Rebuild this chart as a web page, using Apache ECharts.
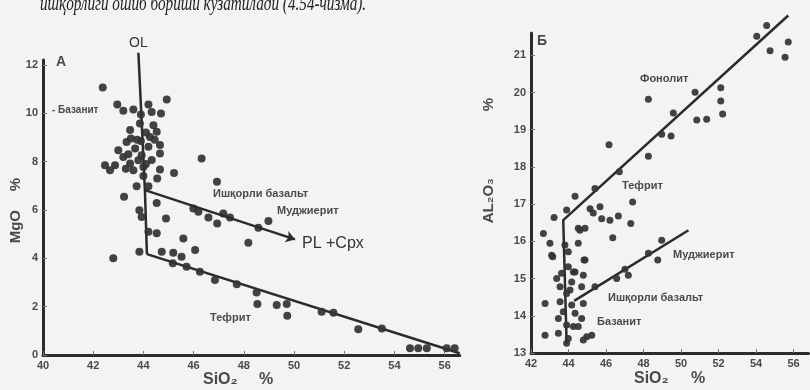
<!DOCTYPE html>
<html><head><meta charset="utf-8">
<script src="https://cdn.jsdelivr.net/npm/echarts@6/dist/echarts.min.js"></script>
<style>html,body{margin:0;padding:0;background:#f3f3f3}#c{width:810px;height:390px}</style>
</head><body><div id="c"></div>
<script>
// ---------- Panel A: SiO2 vs MgO ----------
const aXTicks = [40, 42, 44, 46, 48, 50, 52, 54, 56];
const aYTicks = [0, 2, 4, 6, 8, 10, 12];
const aPoints = [
 [42.38,11.06],[44.93,10.57],[42.96,10.36],[43.2,10.1],[43.6,10.15],[44.2,10.36],[44.33,10.05],[44.7,9.99],
 [43.86,9.57],[44.4,9.5],[43.47,9.3],[44.53,9.23],[44.26,9.02],[43.33,8.81],[43.9,8.85],[44.66,8.68],
 [43.0,8.47],[43.67,8.54],[44.2,8.61],[44.66,8.33],[43.2,8.19],[43.93,8.26],[44.33,8.06],[42.47,7.85],
 [42.87,7.85],[43.47,7.92],[44.0,7.78],[42.67,7.64],[43.6,7.64],[44.66,7.67],[45.22,7.53],[46.32,8.13],
 [44.0,7.4],[44.55,7.3],[43.73,6.98],[44.2,6.98],[43.23,6.54],[44.53,6.29],[43.84,5.99],[43.93,5.71],
 [44.9,5.65],[44.2,5.1],[44.53,5.03],[45.59,4.82],[43.84,4.27],[42.8,4.0],[44.73,4.27],[45.19,4.23],
 [45.52,4.06],[46.06,4.34],[46.93,7.16],[43.5,8.95],[43.75,8.9],[44.1,9.2],[43.4,8.3],[43.8,8.05],
 [44.1,7.9],[43.3,7.7],[43.9,9.95],[44.45,8.9],
 [45.99,6.06],[46.19,5.92],[46.59,5.69],[46.94,5.44],[47.18,5.85],[47.45,5.69],[48.58,5.26],[48.98,5.54],[48.18,4.64],
 [45.17,3.79],[45.72,3.65],[46.25,3.44],[46.85,3.1],[47.72,2.93],[48.51,2.58],[48.54,2.11],[49.31,2.07],
 [49.71,2.11],[49.73,1.62],[51.1,1.79],[51.57,1.75],[52.56,1.06],[53.5,1.1],[54.62,0.28],[54.95,0.28],
 [55.29,0.28],[56.08,0.28],[56.4,0.28]
];
const aOlLine = [[43.8,12.5],[44.06,6.82],[44.14,4.17]];
const aTephriteLine = [[44.14,4.17],[56.6,0.07]];
const aPlCpxLine = [[44.06,6.82],[50.04,4.78]];

// ---------- Panel B: SiO2 vs Al2O3 ----------
const bXTicks = [42, 44, 46, 48, 50, 52, 54, 56];
const bYTicks = [13, 14, 15, 16, 17, 18, 19, 20, 21];
const bPoints = [
 [54.57,21.8],[54.04,21.51],[55.72,21.36],[54.75,21.12],[55.55,20.95],[50.75,20.01],[52.12,20.13],[52.12,19.77],
 [52.22,19.42],[50.84,19.26],[51.37,19.28],[48.26,19.82],[49.59,19.45],[48.97,18.88],[49.47,18.83],[46.16,18.6],
 [48.26,18.29],[46.71,17.87],[45.41,17.42],[44.35,17.21],[47.42,17.06],[43.9,16.84],[45.15,16.88],[45.32,16.76],
 [45.77,16.61],[46.21,16.57],[46.66,16.68],[44.88,16.35],[47.32,16.48],[46.36,16.1],[43.23,16.64],[45.68,16.93],
 [42.66,16.21],[43.01,15.95],[43.81,15.9],[44.52,15.95],[43.99,15.72],[43.1,15.63],[44.88,15.5],[43.99,15.32],
 [43.63,15.14],[44.35,15.18],[43.37,15.0],[44.79,15.09],[44.17,14.91],[43.55,14.78],[44.7,14.78],[43.9,14.6],
 [42.75,14.33],[43.55,14.38],[44.17,14.29],[44.79,14.33],[43.72,14.11],[44.35,14.07],[43.46,13.93],[44.7,13.93],
 [43.9,13.75],[44.52,13.71],[42.75,13.48],[43.46,13.53],[43.99,13.39],[44.97,13.44],[45.24,13.48],[43.9,13.26],
 [44.79,13.35],[44.52,16.35],[44.61,16.3],[43.16,15.59],[44.26,15.18],[44.08,14.69],[44.26,13.71],[44.83,15.5],
 [45.41,14.78],[46.57,15.0],[47.01,15.25],[47.19,15.09],[48.26,15.68],[48.76,15.5],[48.97,16.03]
];
const bPhonoliteLine = [[43.9,13.25],[43.72,16.57],[55.72,22.07]];
const bMugeariteLine = [[44.3,14.4],[50.4,16.3]];

const ink = '#2b2b2b';
const lblColor = '#4a4a4a';
function axisCommon(min, max, interval) {
  return {
    type: 'value', min: min, max: max, interval: interval,
    axisLine: { show: true, onZero: false, lineStyle: { color: ink, width: 3 } },
    axisTick: { show: true, inside: true, length: 4, lineStyle: { color: '#777', width: 1 } },
    axisLabel: { color: lblColor, fontSize: 11, fontWeight: 'bold', fontFamily: 'Liberation Sans', margin: 5,
      showMaxLabel: false,
      formatter: v => (Math.abs(v / interval - Math.round(v / interval)) < 1e-6 ? String(v) : '') },
    splitLine: { show: false }
  };
}
function lineSeries(data, xi, yi) {
  return { type: 'line', xAxisIndex: xi, yAxisIndex: yi, data: data, symbol: 'none', clip: false,
    lineStyle: { color: ink, width: 2.5 }, z: 3, silent: true };
}
function scatterSeries(data, xi, yi, size) {
  return { type: 'scatter', xAxisIndex: xi, yAxisIndex: yi, data: data, symbolSize: size, clip: false,
    itemStyle: { color: '#333', opacity: 0.92 }, z: 4, silent: true };
}
const txt = (x, y, s, size, extra) => Object.assign({ type: 'text', left: x, top: y,
  style: { text: s, fill: lblColor, font: 'bold ' + (size || 11) + 'px "Liberation Sans"' } }, extra || {});

const chart = echarts.init(document.getElementById('c'), null, { renderer: 'canvas' });
chart.setOption({
  backgroundColor: '#f3f3f3',
  animation: false,
  grid: [
    { left: 43, top: 60, width: 416.7, height: 295 },
    { left: 531, top: 33, width: 277.5, height: 320 }
  ],
  xAxis: [
    Object.assign(axisCommon(aXTicks[0], 56.6, aXTicks[1] - aXTicks[0]), { gridIndex: 0 }),
    Object.assign(axisCommon(bXTicks[0], 56.8, bXTicks[1] - bXTicks[0]), { gridIndex: 1 })
  ],
  yAxis: [
    Object.assign(axisCommon(aYTicks[0], 12.2, aYTicks[1] - aYTicks[0]), { gridIndex: 0 }),
    Object.assign(axisCommon(bYTicks[0], 21.6, bYTicks[1] - bYTicks[0]), { gridIndex: 1 })
  ],
  series: [
    lineSeries(aOlLine, 0, 0),
    lineSeries(aTephriteLine, 0, 0),
    { type: 'line', xAxisIndex: 0, yAxisIndex: 0, data: [], silent: true,
      markLine: { silent: true, symbol: ['none', 'arrow'], symbolSize: 9, label: { show: false },
        lineStyle: { color: ink, width: 2.5, type: 'solid' },
        data: [[{ coord: aPlCpxLine[0] }, { coord: aPlCpxLine[1] }]] } },
    scatterSeries(aPoints, 0, 0, 8),
    lineSeries(bPhonoliteLine, 1, 1),
    lineSeries(bMugeariteLine, 1, 1),
    scatterSeries(bPoints, 1, 1, 7)
  ],
  graphic: [
    { type: 'text', left: 40, top: -5, scaleX: 0.76, style: { text: 'ишқорлиги ошиб бориши кузатилади (4.54-чизма).',
      fill: '#222', font: 'italic 20px "Liberation Serif"' } },
    // Panel A texts
    txt(56, 55, 'А', 14),
    { type: 'text', left: 129, top: 36, style: { text: 'OL', fill: '#333', font: '14px "Liberation Sans"' } },
    txt(52, 105, '- Базанит', 10),
    txt(213, 188, 'Ишқорли базальт', 11),
    txt(277, 205, 'Муджиерит', 11),
    { type: 'text', left: 302, top: 236, style: { text: 'PL +Cpx', fill: '#333', font: '16px "Liberation Sans"' } },
    txt(210, 312, 'Тефрит', 11),
    { type: 'text', left: 8, top: 210, rotation: Math.PI / 2,
      style: { text: 'MgO', fill: lblColor, font: 'bold 15px "Liberation Sans"' } },
    { type: 'text', left: 8, top: 178, rotation: Math.PI / 2,
      style: { text: '%', fill: lblColor, font: 'bold 15px "Liberation Sans"' } },
    txt(203, 372, 'SiO₂', 16),
    txt(259, 372, '%', 16),
    // Panel B texts
    txt(537, 34, 'Б', 14),
    txt(640, 73, 'Фонолит', 11),
    txt(622, 180, 'Тефрит', 11),
    txt(673, 249, 'Муджиерит', 11),
    txt(608, 292, 'Ишқорли базальт', 11),
    txt(597, 316, 'Базанит', 11),
    { type: 'text', left: 481, top: 178, rotation: Math.PI / 2,
      style: { text: 'AL₂O₃', fill: lblColor, font: 'bold 15px "Liberation Sans"' } },
    { type: 'text', left: 481, top: 98, rotation: Math.PI / 2,
      style: { text: '%', fill: lblColor, font: 'bold 15px "Liberation Sans"' } },
    txt(634, 371, 'SiO₂', 16),
    txt(691, 371, '%', 16)
  ]
});
</script></body></html>
